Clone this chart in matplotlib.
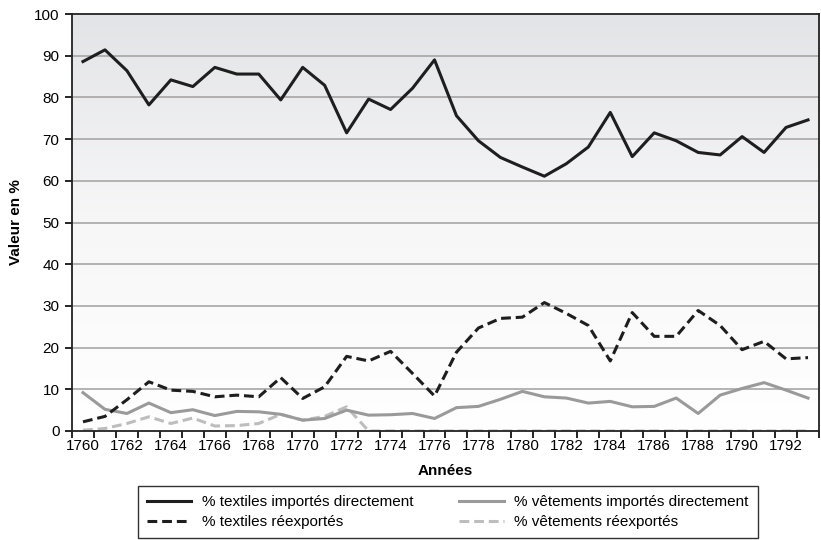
import numpy as np
import matplotlib
matplotlib.use("Agg")
import matplotlib.pyplot as plt
from matplotlib.colors import LinearSegmentedColormap

plt.rcParams['font.family'] = ['Liberation Sans', 'DejaVu Sans']

years = list(range(1760, 1794))

textiles_directs = [88.6, 91.4, 86.4, 78.2, 84.2, 82.6, 87.2, 85.6, 85.6, 79.4,
                    87.2, 82.9, 71.5, 79.6, 77.1, 82.2, 89.0, 75.6, 69.6, 65.6,
                    63.3, 61.1, 64.1, 68.1, 76.4, 65.8, 71.5, 69.6, 66.8, 66.2,
                    70.6, 66.8, 72.8, 74.6]
textiles_reexportes = [2.2, 3.5, 7.5, 11.8, 9.8, 9.5, 8.2, 8.6, 8.2, 12.8,
                       7.8, 10.6, 17.9, 16.8, 19.1, 13.8, 8.4, 18.9, 24.7, 27.0,
                       27.3, 30.8, 28.2, 25.3, 16.8, 28.4, 22.7, 22.7, 28.9, 25.3,
                       19.5, 21.5, 17.3, 17.6]
vetements_directs = [9.2, 5.2, 4.2, 6.7, 4.4, 5.1, 3.7, 4.7, 4.6, 4.0,
                     2.6, 3.0, 5.0, 3.8, 3.9, 4.2, 3.0, 5.6, 5.9, 7.6,
                     9.5, 8.2, 7.9, 6.7, 7.1, 5.8, 5.9, 7.9, 4.2, 8.6,
                     10.2, 11.6, 9.8, 7.9]
vetements_reexportes = [0.2, 0.6, 1.8, 3.4, 1.8, 3.1, 1.2, 1.3, 1.8, 4.0,
                        2.6, 3.5, 5.8, 0, 0, 0, 0, 0, 0, 0,
                        0, 0, 0, 0, 0, 0, 0, 0, 0, 0,
                        0, 0, 0, 0]

fig = plt.figure(figsize=(8.21, 5.40), dpi=100)
ax = fig.add_axes([72 / 821, 1 - 431 / 540, 747 / 821, 417 / 540])

x0, x1 = years[0] - 0.5, years[-1] + 0.5
ax.set_xlim(x0, x1)
ax.set_ylim(0, 100)

# fond en dégradé
cmap = LinearSegmentedColormap.from_list("fond", ["#ffffff", "#f7f7f8", "#e3e4e7"])
grad = np.linspace(0, 1, 256).reshape(-1, 1)
ax.imshow(grad, cmap=cmap, extent=[x0, x1, 0, 100], origin="lower",
          aspect="auto", zorder=0)

for v in range(10, 100, 10):
    ax.axhline(v, color="#a0a0a0", lw=1.1, zorder=1)

ax.plot(years, textiles_directs, color="#1e1e1e", lw=2.2, zorder=3,
        label="% textiles importés directement")
ax.plot(years, vetements_directs, color="#9a9a9a", lw=2.2, zorder=3,
        label="% vêtements importés directement")
ax.plot(years, textiles_reexportes, color="#1e1e1e", lw=2.2, dashes=(3.2, 1.6),
        zorder=3, label="% textiles réexportés")
ax.plot(years, vetements_reexportes, color="#bdbdbd", lw=2.2, dashes=(3.2, 1.6),
        zorder=2, label="% vêtements réexportés")

ax.set_xticks(years[::2])
ax.set_xticklabels([str(y) for y in years[::2]])
ax.set_xticks(np.arange(x0, x1 + 0.1, 1), minor=True)
ax.tick_params(axis="x", which="major", length=0, pad=6, labelsize=11)
ax.tick_params(axis="x", which="minor", length=5, width=1.2, direction="out")
ax.set_yticks(range(0, 101, 10))
ax.tick_params(axis="y", length=5, width=1.2, direction="out", labelsize=11, pad=4)

for s in ax.spines.values():
    s.set_color("#222222")
    s.set_linewidth(1.3)
    s.set_zorder(4)

ax.set_xlabel("Années", fontweight="bold", fontsize=11, labelpad=8)
ax.set_ylabel("Valeur en %", fontweight="bold", fontsize=11, labelpad=8)

h, l = ax.get_legend_handles_labels()
order = [0, 2, 1, 3]
leg = fig.legend([h[i] for i in order], [l[i] for i in order], ncol=2,
                 loc="upper left", mode="expand", borderaxespad=0,
                 bbox_to_anchor=(138 / 821, 0, 620 / 821, 54 / 540),
                 fancybox=False, framealpha=1, edgecolor="#333333",
                 fontsize=11, handlelength=2.9, handletextpad=0.7,
                 borderpad=0.6, labelspacing=0.38, columnspacing=1.6)
leg.get_frame().set_linewidth(1.0)

fig.savefig("out.png", dpi=100)
